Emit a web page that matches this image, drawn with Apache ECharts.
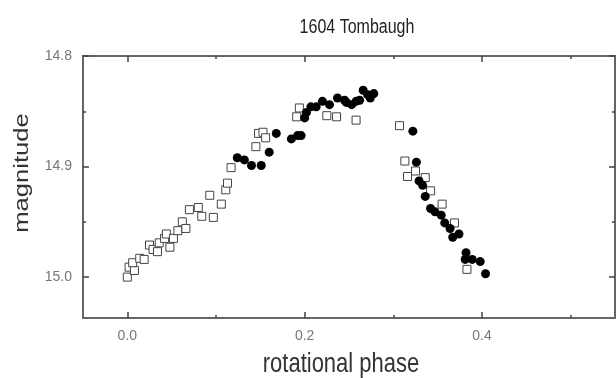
<!DOCTYPE html>
<html><head><meta charset="utf-8">
<script src="https://cdn.jsdelivr.net/npm/echarts@6/dist/echarts.min.js"></script>
<style>html,body{margin:0;padding:0;background:#fff}#c{width:616px;height:378px}</style>
</head><body><div id="c"></div>
<script>
const titleText = '1604 Tombaugh';
const xName = 'rotational phase';
const yName = 'magnitude';
// open squares: [phase, magnitude]
const squares = [
 [0.000,15.000],[0.002,14.991],[0.008,14.994],[0.006,14.987],[0.014,14.983],[0.019,14.984],
 [0.025,14.971],[0.029,14.975],[0.034,14.977],[0.036,14.969],[0.042,14.965],[0.044,14.961],
 [0.048,14.973],[0.052,14.965],[0.057,14.958],[0.062,14.950],[0.066,14.956],[0.070,14.939],
 [0.080,14.937],[0.084,14.945],[0.093,14.926],[0.097,14.946],[0.106,14.934],[0.111,14.921],
 [0.113,14.915],[0.117,14.901],[0.145,14.882],[0.148,14.870],[0.153,14.869],[0.156,14.874],
 [0.191,14.855],[0.194,14.847],[0.225,14.854],[0.236,14.855],[0.258,14.858],
 [0.307,14.863],[0.313,14.895],[0.316,14.909],[0.325,14.904],[0.336,14.910],[0.342,14.922],
 [0.355,14.934],[0.369,14.951],[0.383,14.993]
];
// filled circles: [phase, magnitude]
const circles = [
 [0.124,14.892],[0.132,14.894],[0.140,14.899],[0.151,14.899],[0.160,14.887],[0.168,14.870],
 [0.185,14.875],[0.192,14.872],[0.196,14.872],[0.200,14.856],[0.202,14.851],[0.207,14.846],
 [0.213,14.846],[0.220,14.841],[0.228,14.844],[0.237,14.838],[0.245,14.840],[0.247,14.842],
 [0.253,14.844],[0.258,14.841],[0.262,14.840],[0.266,14.831],[0.271,14.835],[0.274,14.838],
 [0.278,14.834],
 [0.322,14.868],[0.326,14.896],[0.329,14.913],[0.333,14.917],[0.336,14.927],[0.342,14.938],
 [0.347,14.941],[0.354,14.944],[0.358,14.951],[0.364,14.956],[0.367,14.964],[0.374,14.961],
 [0.382,14.978],[0.381,14.984],[0.389,14.984],[0.398,14.986],[0.404,14.997]
];
const xMajor = [0.0, 0.2, 0.4];
const xMinor = [0.1, 0.3, 0.5];
const yMajor = [14.8, 14.9, 15.0];
const yMinor = [14.85, 14.95];

const XMIN = -0.05, XMAX = 0.55, YMIN = 14.8, YMAX = 15.037;
const lineCol = '#666';
const font = 'Liberation Sans, Arial, sans-serif';

function xAx(pos, ticks, len, labels, line) {
  return {
    type: 'value', position: pos, min: XMIN, max: XMAX,
    axisLine: {show: line, onZero: false, lineStyle: {color: lineCol, width: 2}},
    axisTick: {show: true, inside: true, length: len, customValues: ticks, lineStyle: {color: '#444', width: 1.5}},
    axisLabel: labels ? {show: true, customValues: xMajor, formatter: v => v.toFixed(1), color: '#777', fontSize: 14, fontFamily: font, margin: 11} : {show: false},
    splitLine: {show: false}
  };
}
function yAx(pos, ticks, len, labels, line) {
  return {
    type: 'value', position: pos, min: YMIN, max: YMAX, inverse: true,
    axisLine: {show: line, onZero: false, lineStyle: {color: lineCol, width: 2}},
    axisTick: {show: true, inside: true, length: len, customValues: ticks, lineStyle: {color: '#444', width: 1.5}},
    axisLabel: labels ? {show: true, customValues: yMajor, formatter: v => v.toFixed(1), color: '#777', fontSize: 14, fontFamily: font, margin: 11} : {show: false},
    splitLine: {show: false}
  };
}

const chart = echarts.init(document.getElementById('c'));
chart.setOption({
  animation: false,
  backgroundColor: '#fff',
  grid: {left: 83, right: 1, top: 56, bottom: 60},
  graphic: [
    {type: 'text', x: 357, y: 27, scaleY: 1.25,
      style: {text: titleText, fontFamily: font, fontSize: 16, fill: '#222', align: 'center', verticalAlign: 'middle'}},
    {type: 'text', x: 341, y: 364, scaleY: 1.25,
      style: {text: xName, fontFamily: font, fontSize: 22, fill: '#333', align: 'center', verticalAlign: 'middle'}},
    {type: 'text', x: 22, y: 173, rotation: Math.PI / 2, scaleX: 1.22,
      style: {text: yName, fontFamily: font, fontSize: 21, fill: '#333', align: 'center', verticalAlign: 'middle'}}
  ],
  xAxis: [
    xAx('bottom', xMajor, 6, true, true),
    xAx('bottom', xMinor, 3, false, false),
    xAx('top', xMajor, 6, false, true),
    xAx('top', xMinor, 3, false, false)
  ],
  yAxis: [
    yAx('left', yMajor, 6, true, true),
    yAx('left', yMinor, 3, false, false),
    yAx('right', yMajor, 6, false, true),
    yAx('right', yMinor, 3, false, false)
  ],
  series: [
    {type: 'scatter', data: squares, symbol: 'rect', symbolSize: 8,
      itemStyle: {color: '#fff', borderColor: '#444', borderWidth: 1, opacity: 1}},
    {type: 'scatter', data: circles, symbol: 'circle', symbolSize: 9,
      itemStyle: {color: '#000', opacity: 1}}
  ]
});
</script></body></html>
